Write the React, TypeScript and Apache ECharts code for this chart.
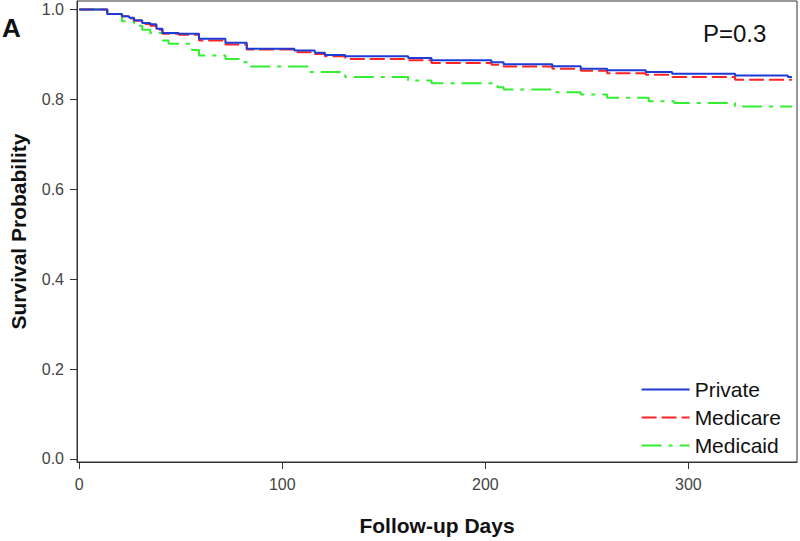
import React, { useEffect, useRef } from "react";
import * as echarts from "echarts";

const FONT = "'Liberation Sans', Arial, Helvetica, sans-serif";

const xTicks = [0, 100, 200, 300];
const yTicks = [0, 0.2, 0.4, 0.6, 0.8, 1.0];

const privateDays = [0, 13.8, 21, 24.6, 27, 31, 35, 38, 41, 49, 59, 72, 82.5, 106, 116, 121, 131, 162, 173.5, 203, 209, 233, 247, 260, 279, 292, 323, 349, 351];
const privateSurv = [1.0, 0.99, 0.985, 0.982, 0.976, 0.97, 0.967, 0.957, 0.948, 0.946, 0.935, 0.926, 0.913, 0.909, 0.904, 0.899, 0.896, 0.892, 0.887, 0.883, 0.878, 0.874, 0.868, 0.865, 0.861, 0.857, 0.853, 0.85, 0.85];

const medicareDays = [0, 13.8, 21, 24.6, 27, 31, 35, 38, 41, 49, 59, 72, 82.5, 106, 116, 121, 131, 162, 173.5, 203, 209, 233, 247, 260, 279, 292, 323, 351];
const medicareSurv = [1.0, 0.99, 0.985, 0.98, 0.975, 0.968, 0.964, 0.955, 0.946, 0.944, 0.931, 0.922, 0.911, 0.905, 0.901, 0.896, 0.89, 0.887, 0.881, 0.877, 0.873, 0.868, 0.864, 0.858, 0.855, 0.85, 0.844, 0.844];

const medicaidDays = [0, 13.8, 21, 27, 31, 35, 41, 44, 55.5, 59, 72, 78.6, 82.6, 113, 131, 162, 173.5, 206, 209, 233, 247, 260, 280.5, 293, 323, 351];
const medicaidSurv = [1.0, 0.99, 0.974, 0.964, 0.955, 0.948, 0.931, 0.924, 0.91, 0.898, 0.89, 0.883, 0.873, 0.861, 0.85, 0.842, 0.836, 0.827, 0.822, 0.816, 0.811, 0.804, 0.796, 0.792, 0.784, 0.784];

const seriesNames = ["Private", "Medicare", "Medicaid"];

const zip = (a: number[], b: number[]) => a.map((d, i) => [d, b[i]]);

export default function App() {
  const ref = useRef<HTMLDivElement>(null);
  useEffect(() => {
    document.body.style.margin = "0";
    if (!ref.current) return;
    const chart = echarts.init(ref.current, null, { renderer: "svg" });
    const axisColor = "#333";
    chart.setOption({
      animation: false,
      backgroundColor: "#fff",
      grid: {
        left: 75,
        top: 1,
        width: 722,
        height: 462,
        show: true,
        borderColor: axisColor,
        borderWidth: 1,
        backgroundColor: "transparent",
      },
      xAxis: {
        type: "value",
        min: -1.1,
        max: 353.5,
        name: "Follow-up Days",
        nameLocation: "middle",
        nameGap: 53,
        nameTextStyle: { fontFamily: FONT, fontSize: 21, fontWeight: "bold", color: "#111" },
        axisLine: { show: true, onZero: false, lineStyle: { color: axisColor, width: 1 } },
        axisTick: { show: true, length: 7, customValues: xTicks, lineStyle: { color: axisColor } },
        axisLabel: { customValues: xTicks, fontFamily: FONT, fontSize: 16, color: "#444", margin: 14 },
        splitLine: { show: false },
      },
      yAxis: {
        type: "value",
        min: -0.0067,
        max: 1.019,
        name: "Survival Probability",
        nameLocation: "middle",
        nameGap: 48,
        nameTextStyle: { fontFamily: FONT, fontSize: 21, fontWeight: "bold", color: "#111" },
        axisLine: { show: true, onZero: false, lineStyle: { color: axisColor, width: 1 } },
        axisTick: { show: true, length: 7, customValues: yTicks, lineStyle: { color: axisColor } },
        axisLabel: {
          customValues: yTicks,
          fontFamily: FONT,
          fontSize: 16,
          color: "#444",
          margin: 13,
          formatter: (v: number) => v.toFixed(1),
        },
        splitLine: { show: false },
      },
      legend: {
        orient: "vertical",
        right: 14,
        top: 374,
        itemWidth: 48,
        itemHeight: 14,
        itemGap: 7,
        data: seriesNames,
        itemStyle: { opacity: 0 },
        textStyle: { fontFamily: FONT, fontSize: 21, color: "#111", lineHeight: 21 },
      },
      graphic: [
        {
          type: "text",
          left: 2,
          top: 15,
          style: { text: "A", fontFamily: FONT, fontSize: 26, fontWeight: "bold", fill: "#111" },
        },
        {
          type: "text",
          left: 703,
          top: 21,
          style: { text: "P=0.3", fontFamily: FONT, fontSize: 24, fill: "#111" },
        },
      ],
      series: [
        {
          name: seriesNames[0],
          type: "line",
          step: "end",
          symbol: "none",
          data: zip(privateDays, privateSurv),
          color: "#1f3bd6",
          lineStyle: { color: "#1f3bd6", width: 2, type: "solid" },
          z: 4,
        },
        {
          name: seriesNames[1],
          type: "line",
          step: "end",
          symbol: "none",
          data: zip(medicareDays, medicareSurv),
          color: "#ff2424",
          lineStyle: { color: "#ff2424", width: 2, type: [15, 5] },
          z: 3,
        },
        {
          name: seriesNames[2],
          type: "line",
          step: "end",
          symbol: "none",
          data: zip(medicaidDays, medicaidSurv),
          color: "#33ee33",
          lineStyle: { color: "#33ee33", width: 2, type: [20, 7, 4, 7] },
          z: 2,
        },
      ],
    });
    return () => chart.dispose();
  }, []);
  return <div ref={ref} style={{ width: 800, height: 541 }} />;
}
